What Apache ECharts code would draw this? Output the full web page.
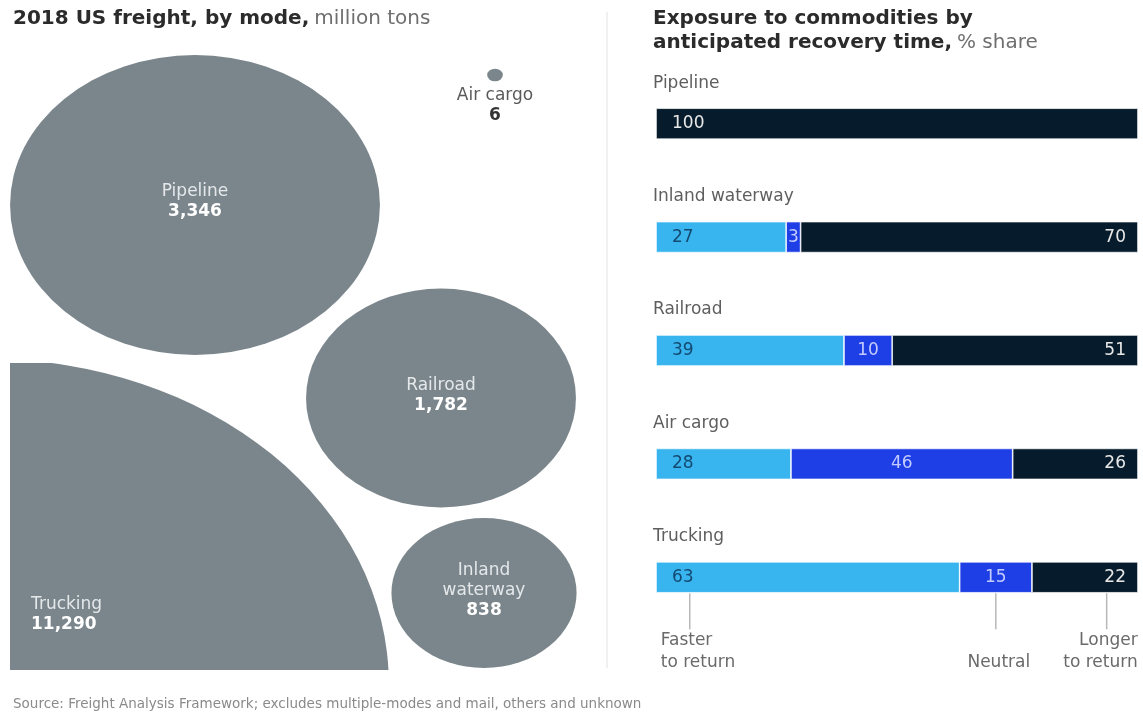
<!DOCTYPE html>
<html><head><meta charset="utf-8">
<script src="https://cdn.jsdelivr.net/npm/echarts@6/dist/echarts.min.js"></script>
<style>html,body{margin:0;padding:0;background:#fff}#main{width:1143px;height:713px}</style>
</head><body><div id="main"></div>
<script>
// ---------- Left panel data: 2018 US freight by mode, million tons ----------
const modes = ['Pipeline', 'Railroad', 'Inland waterway', 'Air cargo', 'Trucking'];
const modeLabels = ['Pipeline', 'Railroad', 'Inland\nwaterway', 'Air cargo', 'Trucking'];
const freightTons = [3346, 1782, 838, 6, 11290];

// ---------- Right panel data: % share by anticipated recovery time ----------
const barCategories = ['Pipeline', 'Inland waterway', 'Railroad', 'Air cargo', 'Trucking'];
const fasterShare = [0, 27, 39, 28, 63];
const neutralShare = [0, 3, 10, 46, 15];
const longerShare = [100, 70, 51, 26, 22];
const annotationLabels = ['Faster\nto return', 'Neutral', 'Longer\nto return'];
const annotationAnchors = [7, 70.5, 93.5]; // value-axis positions on the Trucking bar

// ---------- Layout / style (not data) ----------
const FONT = 'DejaVu Sans';
const GRAY = '#7b868c';
const C_FAST = '#38b4ef', C_NEUT = '#1f3fe6', C_LONG = '#061c2c';
const ASPECT = 1.233;          // bubbles are drawn horizontally stretched
const K = 2.593;               // px of vertical radius per sqrt(million tons)
const bubbleLayout = {
  'Pipeline':        {c: [195, 205], label: [195, 202], align: 'center', light: true, zoom: 1},
  'Railroad':        {c: [441, 398], label: [441, 396], align: 'center', light: true, zoom: 1},
  'Inland waterway': {c: [484, 593], label: [484, 591], align: 'center', light: true, zoom: 1},
  'Air cargo':       {c: [495, 75],  label: [495, 106], align: 'center', light: false, zoom: 1},
  'Trucking':        {c: [-12, 684], label: [31, 615],  align: 'left',   light: true, zoom: 1.18}
};

const bubbleData = modes.map((m, i) => [bubbleLayout[m].c[0], bubbleLayout[m].c[1], freightTons[i], i]);
const truckIdx = modes.indexOf('Trucking');

function renderBubble(params, api) {
  const i = api.value(3);
  const lay = bubbleLayout[modes[i]];
  const p = api.coord([api.value(0), api.value(1)]);
  const ry = K * Math.sqrt(api.value(2)) * lay.zoom;
  const lp = api.coord(lay.label);
  return {
    type: 'group',
    children: [
      {type: 'circle', shape: {cx: 0, cy: 0, r: ry}, x: p[0], y: p[1], scaleX: ASPECT, scaleY: 1,
       style: {fill: GRAY}},
      {type: 'text', x: lp[0], y: lp[1], z2: 10,
       style: {
         text: '{n|' + modeLabels[i].split('\n').join('}\n{n|') + '}\n{v|' + freightTons[i].toLocaleString('en-US') + '}',
         align: lay.align, verticalAlign: 'middle',
         rich: {
           n: {fontFamily: FONT, fontSize: 17, lineHeight: 20, fill: lay.light ? '#e4e8ea' : '#5a5a5a'},
           v: {fontFamily: FONT, fontSize: 17, lineHeight: 20, fontWeight: 'bold', fill: lay.light ? '#ffffff' : '#333333'}
         }
       }}
    ]
  };
}

function renderAnnot(params, api) {
  const i = params.dataIndex;
  const p = api.coord([api.value(0), api.value(1)]);
  const cfg = [{align: 'left', dx: -29}, {align: 'center', dx: 3}, {align: 'right', dx: 31}][i];
  return {
    type: 'group',
    children: [
      {type: 'line', shape: {x1: p[0], y1: p[1] + 16, x2: p[0], y2: p[1] + 52},
       style: {stroke: '#b8b8b8', lineWidth: 1.5}},
      {type: 'text', x: p[0] + cfg.dx, y: p[1] + 96,
       style: {text: annotationLabels[i], align: cfg.align, verticalAlign: 'bottom',
               fontFamily: FONT, fontSize: 17, lineHeight: 22, fill: '#6a6a6a'}}
    ]
  };
}

const hiddenAxis = {show: false};
const barLabel = {fontFamily: FONT, fontSize: 17};

const option = {
  animation: false,
  backgroundColor: '#ffffff',
  title: [
    {left: 13, top: 9, padding: 0, text: '{b|2018 US freight, by mode,} {r|million tons}',
     textStyle: {fontWeight: 'normal', rich: {
       b: {fontFamily: FONT, fontSize: 20, fontWeight: 'bold', color: '#2b2b2b'},
       r: {fontFamily: FONT, fontSize: 20, fontWeight: 'normal', color: '#6f6f6f'}}}},
    {left: 653, top: 7, padding: 0, text: '{b|Exposure to commodities by}\n{b|anticipated recovery time,} {r|% share}',
     textStyle: {fontWeight: 'normal', rich: {
       b: {fontFamily: FONT, fontSize: 20, fontWeight: 'bold', color: '#2b2b2b', lineHeight: 24},
       r: {fontFamily: FONT, fontSize: 20, fontWeight: 'normal', color: '#6f6f6f', lineHeight: 24}}}},
    {left: 13, top: 697, padding: 0, text: 'Source: Freight Analysis Framework; excludes multiple-modes and mail, others and unknown',
     textStyle: {fontFamily: FONT, fontSize: 13.5, fontWeight: 'normal', color: '#8a8a8a'}}
  ],
  graphic: [
    {type: 'line', shape: {x1: 607, y1: 12, x2: 607, y2: 668}, style: {stroke: '#e2e2e2', lineWidth: 1}, silent: true}
  ],
  grid: [
    {left: 0, top: 0, width: 600, height: 713},
    {left: 10, top: 363, width: 590, height: 307},
    {left: 656, top: 67, width: 482, height: 567}
  ],
  xAxis: [
    {gridIndex: 0, type: 'value', min: 0, max: 600, ...hiddenAxis},
    {gridIndex: 1, type: 'value', min: 10, max: 600, ...hiddenAxis},
    {gridIndex: 2, type: 'value', min: 0, max: 100, ...hiddenAxis}
  ],
  yAxis: [
    {gridIndex: 0, type: 'value', min: 0, max: 713, inverse: true, ...hiddenAxis},
    {gridIndex: 1, type: 'value', min: 363, max: 670, inverse: true, ...hiddenAxis},
    {gridIndex: 2, type: 'category', data: barCategories, inverse: true,
     axisLine: {show: false}, axisTick: {show: false}, splitLine: {show: false},
     axisLabel: {inside: true, margin: -3, align: 'left', verticalAlign: 'bottom', padding: [0, 0, 32, 0],
                 fontFamily: FONT, fontSize: 17, color: '#5e5e5e'}}
  ],
  series: [
    {type: 'custom', name: 'bubbles', xAxisIndex: 0, yAxisIndex: 0, renderItem: renderBubble,
     data: bubbleData.filter((d, i) => i !== truckIdx), silent: true},
    {type: 'custom', name: 'trucking', xAxisIndex: 1, yAxisIndex: 1, clip: true, renderItem: renderBubble,
     data: bubbleData.filter((d, i) => i === truckIdx), silent: true},
    {type: 'bar', name: 'Faster to return', xAxisIndex: 2, yAxisIndex: 2, stack: 'share', barWidth: 31,
     data: fasterShare, itemStyle: {color: C_FAST, borderColor: '#ffffff', borderWidth: 0.7},
     label: {show: true, position: 'insideLeft', distance: 16, color: '#134a72', ...barLabel,
             formatter: p => p.value ? String(p.value) : ''}},
    {type: 'bar', name: 'Neutral', xAxisIndex: 2, yAxisIndex: 2, stack: 'share', barWidth: 31,
     data: neutralShare, itemStyle: {color: C_NEUT, borderColor: '#ffffff', borderWidth: 0.7},
     label: {show: true, position: 'inside', color: '#c3cbff', ...barLabel,
             formatter: p => p.value ? String(p.value) : ''}},
    {type: 'bar', name: 'Longer to return', xAxisIndex: 2, yAxisIndex: 2, stack: 'share', barWidth: 31,
     data: longerShare.map((v, i) => v === 100 ? {value: v, label: {position: 'insideLeft', distance: 16}} : v),
     itemStyle: {color: C_LONG, borderColor: '#ffffff', borderWidth: 0.7},
     label: {show: true, position: 'insideRight', distance: 12, color: '#e8e8e8', ...barLabel,
             formatter: p => p.value ? String(p.value) : ''}},
    {type: 'custom', name: 'annotations', xAxisIndex: 2, yAxisIndex: 2, renderItem: renderAnnot, silent: true,
     data: annotationAnchors.map(v => [v, 'Trucking'])}
  ]
};
const chart = echarts.init(document.getElementById('main'));
chart.setOption(option);
</script>
</body></html>
